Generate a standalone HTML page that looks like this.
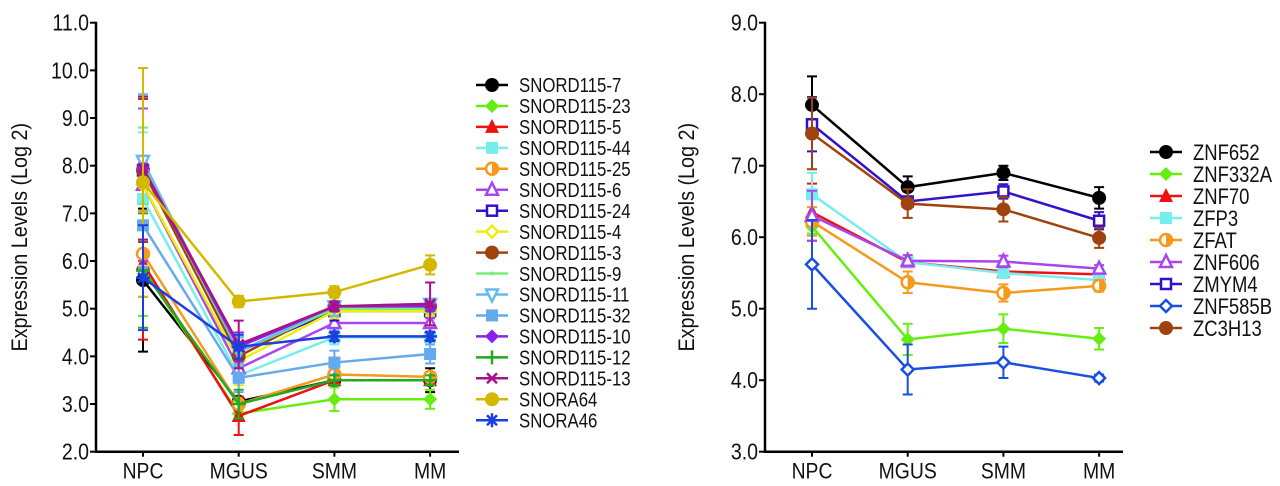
<!DOCTYPE html>
<html><head><meta charset="utf-8"><style>
html,body{margin:0;padding:0;background:#fff;}
svg{display:block;font-family:"Liberation Sans",Arial,sans-serif;}
</style></head><body>
<svg id="c" width="1280" height="486" viewBox="0 0 1280 486"></svg>
<script>
const categories=["NPC","MGUS","SMM","MM"];
const leftNames=["SNORD115-7","SNORD115-23","SNORD115-5","SNORD115-44","SNORD115-25","SNORD115-6","SNORD115-24","SNORD115-4","SNORD115-3","SNORD115-9","SNORD115-11","SNORD115-32","SNORD115-10","SNORD115-12","SNORD115-13","SNORA64","SNORA46"];
const leftValues=[
[5.6,3.05,3.5,3.5],[5.85,2.8,3.1,3.1],[5.95,2.75,3.5,3.5],[7.3,3.6,4.4,4.4],
[6.15,3.0,3.62,3.57],[7.6,3.75,4.7,4.7],[7.9,4.1,4.95,4.95],[7.6,3.9,4.95,4.95],
[7.9,4.0,5.05,5.05],[8.0,4.1,5.0,5.0],[8.1,4.1,5.05,5.1],[6.75,3.55,3.87,4.05],
[7.95,4.2,5.05,5.05],[5.8,3.0,3.5,3.5],[7.95,4.25,5.05,5.1],[7.65,5.15,5.35,5.92],[5.65,4.2,4.42,4.42]];
const leftErrors=[
[1.5,0.1,0.1,0.25],[1.0,0.1,0.25,0.2],[1.6,0.4,0.1,0.1],[1.4,0.2,0.15,0.1],
[0.9,0.1,0.1,0.1],[1.6,0.3,0.2,0.1],[1.5,0.3,0.2,0.1],[1.2,0.5,0.15,0.1],
[1.5,0.5,0.1,0.15],[0.8,0.3,0.15,0.1],[1.4,0.3,0.2,0.1],[0.9,0.3,0.25,0.2],
[1.5,0.3,0.1,0.1],[1.2,0.3,0.1,0.1],[1.5,0.5,0.1,0.45],[2.4,0.12,0.12,0.2],[1.1,0.25,0.1,0.1]];
const leftColors=["#000","#66ee11","#ee1111","#77eeee","#f59a1a","#aa44ee","#3311cc","#eeee11","#a0420e","#77ee77","#66bbee","#66aaee","#8822ee","#22aa22","#aa1188","#d4b800","#1a3fe0"];
const leftMarkers=["circle","diamond","triangle","square","halfcircle","otriangle","osquare","odiamond","circle","dash","otridown","square","diamond","plus","x","circle","star"];
const leftTicks=["2.0","3.0","4.0","5.0","6.0","7.0","8.0","9.0","10.0","11.0"];

const rightNames=["ZNF652","ZNF332A","ZNF70","ZFP3","ZFAT","ZNF606","ZMYM4","ZNF585B","ZC3H13"];
const rightValues=[[7.85,6.7,6.9,6.55],[6.15,4.57,4.72,4.58],[6.35,5.65,5.52,5.48],[6.6,5.65,5.5,5.4],[6.22,5.37,5.22,5.32],[6.3,5.67,5.66,5.56],[7.58,6.5,6.64,6.23],[5.62,4.15,4.25,4.03],[7.45,6.47,6.39,5.99]];
const rightErrors=[[0.4,0.15,0.1,0.15],[0.1,0.22,0.2,0.15],[0.4,0.05,0.05,0.05],[0.3,0.05,0.05,0.05],[0.2,0.15,0.12,0.08],[0.35,0.08,0.08,0.05],[0.38,0.05,0.1,0.12],[0.62,0.35,0.22,0.05],[0.5,0.2,0.17,0.14]];
const rightColors=["#000","#66ee11","#ee1111","#77eeee","#f59a1a","#aa44ee","#3311cc","#1a50e0","#a0420e"];
const rightMarkers=["circle","diamond","triangle","square","halfcircle","otriangle","osquare","odiamond","circle"];
const rightTicks=["3.0","4.0","5.0","6.0","7.0","8.0","9.0"];

const NS="http://www.w3.org/2000/svg";
const svg=document.getElementById('c');
function mk(tag,attrs,parent){const e=document.createElementNS(NS,tag);for(const k in attrs)e.setAttribute(k,attrs[k]);(parent||svg).appendChild(e);return e;}

function marker(g,type,x,y,c,r){
  r=r||7;
  if(type==="circle")mk('circle',{cx:x,cy:y,r:r,fill:c},g);
  else if(type==="halfcircle"){mk('circle',{cx:x,cy:y,r:r-1,fill:'#fff',stroke:c,'stroke-width':2.5},g);mk('path',{d:`M${x},${y-r+1} A${r-1},${r-1} 0 0 1 ${x},${y+r-1}Z`,fill:c},g);}
  else if(type==="diamond")mk('polygon',{points:`${x},${y-r} ${x+r},${y} ${x},${y+r} ${x-r},${y}`,fill:c},g);
  else if(type==="odiamond")mk('polygon',{points:`${x},${y-r+1} ${x+r-1},${y} ${x},${y+r-1} ${x-r+1},${y}`,fill:'#fff',stroke:c,'stroke-width':2.5},g);
  else if(type==="triangle")mk('polygon',{points:`${x},${y-r-1} ${x+r},${y+r-1} ${x-r},${y+r-1}`,fill:c},g);
  else if(type==="otriangle")mk('polygon',{points:`${x},${y-r} ${x+r-1},${y+r-2} ${x-r+1},${y+r-2}`,fill:'#fff',stroke:c,'stroke-width':2.5},g);
  else if(type==="otridown")mk('polygon',{points:`${x},${y+r} ${x+r-1},${y-r+2} ${x-r+1},${y-r+2}`,fill:'#fff',stroke:c,'stroke-width':2.5},g);
  else if(type==="square")mk('rect',{x:x-r+1,y:y-r+1,width:2*r-2,height:2*r-2,fill:c},g);
  else if(type==="osquare")mk('rect',{x:x-r+2,y:y-r+2,width:2*r-4,height:2*r-4,fill:'#fff',stroke:c,'stroke-width':2.5},g);
  else if(type==="plus"){mk('path',{d:`M${x-r},${y}H${x+r}M${x},${y-r}V${y+r}`,stroke:c,'stroke-width':2.5},g);}
  else if(type==="x"){mk('path',{d:`M${x-r+2},${y-r+2}L${x+r-2},${y+r-2}M${x-r+2},${y+r-2}L${x+r-2},${y-r+2}`,stroke:c,'stroke-width':2.5},g);}
  else if(type==="star"){mk('path',{d:`M${x-r},${y}H${x+r}M${x},${y-r}V${y+r}M${x-5},${y-5}L${x+5},${y+5}M${x-5},${y+5}L${x+5},${y-5}`,stroke:c,'stroke-width':2.5},g);}
  else if(type==="dash"){mk('circle',{cx:x,cy:y,r:2,fill:c},g);}
}

function chart(o){
  const g=mk('g',{});
  
  
  const ymin=parseFloat(o.ticks[0]),ymax=parseFloat(o.ticks[o.ticks.length-1]);
  const Y=v=>o.bottom-(v-ymin)/(ymax-ymin)*(o.bottom-o.top);
  const X=i=>o.xs0+i*o.dx;
  const ax=mk('path',{d:`M${o.left},${o.top-1}V${o.bottom}H${o.right}`,stroke:'#000','stroke-width':2.5,fill:'none'},g);
  
  
  o.ticks.forEach(t=>{
    const y=Y(parseFloat(t));
    mk('line',{x1:o.left-6,x2:o.left,y1:y,y2:y,stroke:'#000','stroke-width':2},g);
    const tx=mk('text',{x:0,y:0,'text-anchor':'end','font-size':23,fill:'#111',transform:`translate(${o.left-7},${y+8}) scale(0.85,1)`},g);
    tx.textContent=t;
    
    
  });
  categories.forEach((c,i)=>{
    mk('line',{x1:X(i),x2:X(i),y1:o.bottom,y2:o.bottom+5,stroke:'#000','stroke-width':2},g);
    const tx=mk('text',{x:0,y:0,'text-anchor':'middle','font-size':22,fill:'#111',transform:`translate(${X(i)},${o.bottom+27}) scale(0.88,1)`},g);
    tx.textContent=c;
    
    
  });
  const ttl=mk('text',{x:0,y:0,'text-anchor':'middle','font-size':22,fill:'#111',transform:`translate(${o.titleX},${(o.top+o.bottom)/2}) rotate(-90) scale(0.9,1)`},g);
  ttl.textContent='Expression Levels (Log 2)';
  
  
  o.values.forEach((vals,s)=>{
    const sg=mk('g',{},g);
    
    
    const c=o.colors[s];
    vals.forEach((v,i)=>{
      const e=o.errors[s][i];
      mk('path',{d:`M${X(i)},${Y(v-e)}V${Y(v+e)}M${X(i)-5},${Y(v-e)}h10M${X(i)-5},${Y(v+e)}h10`,stroke:c,'stroke-width':2},sg);
    });
    mk('polyline',{points:vals.map((v,i)=>X(i)+','+Y(v)).join(' '),fill:'none',stroke:c,'stroke-width':2.5},sg);
    vals.forEach((v,i)=>marker(sg,o.markers[s],X(i),Y(v),c,7));
  });
  o.names.forEach((n,s)=>{
    const lg=mk('g',{},g);
    
    
    const y=o.legY+s*o.legDy;
    mk('line',{x1:o.legX,x2:o.legX+32,y1:y,y2:y,stroke:o.colors[s],'stroke-width':2.5},lg);
    marker(lg,o.markers[s],o.legX+16,y,o.colors[s],7);
    const t=mk('text',{x:0,y:0,'font-size':o.legFont,fill:'#111',transform:`translate(${o.legX+43},${y+o.legFont*0.36}) scale(0.84,1)`},lg);
    t.textContent=n;
  });
}
chart({id:'left-chart',left:96,right:459,top:22.7,bottom:451.7,xs0:143,dx:95.7,ticks:leftTicks,names:leftNames,values:leftValues,errors:leftErrors,colors:leftColors,markers:leftMarkers,titleX:27,legX:476,legY:85,legDy:20.95,legFont:20});
chart({id:'right-chart',left:765,right:1123,top:22.7,bottom:451.7,xs0:812,dx:95.7,ticks:rightTicks,names:rightNames,values:rightValues,errors:rightErrors,colors:rightColors,markers:rightMarkers,titleX:694,legX:1150,legY:152,legDy:22,legFont:22});
</script>
</body></html>
